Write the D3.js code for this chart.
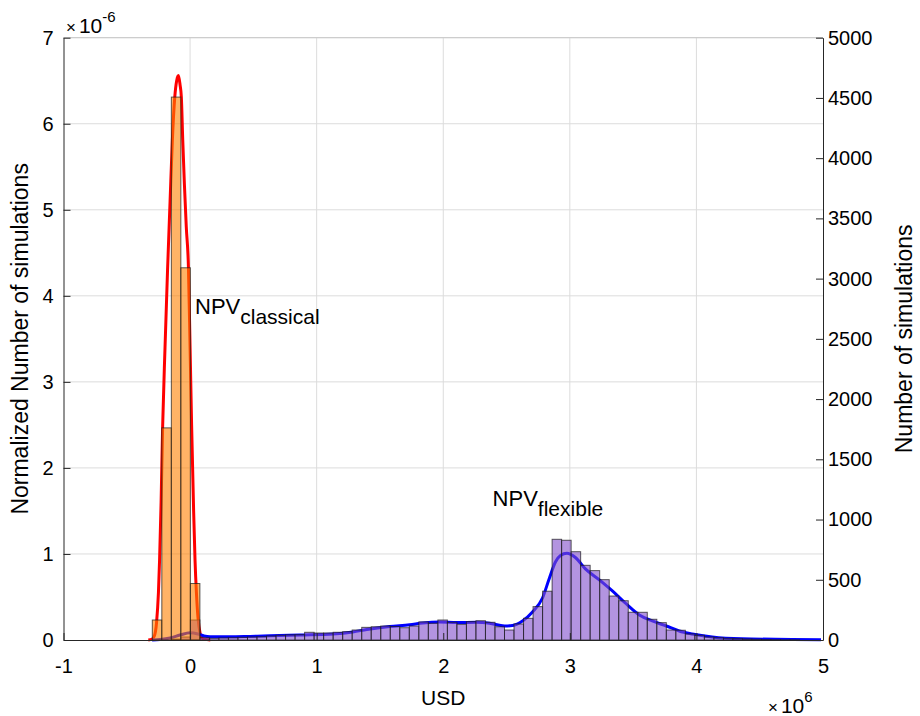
<!DOCTYPE html>
<html>
<head>
<meta charset="utf-8">
<title>NPV histogram</title>
<script src="https://d3js.org/d3.v7.min.js"></script>
<style>
  body { margin: 0; background: #fff; }
  svg { font-family: "Liberation Sans", Arial, sans-serif; }
  .tick text { font-size: 20px; fill: #000; }
  .axis path, .axis line { stroke: #262626; }
</style>
</head>
<body>
<div id="chart"></div>
<script>

// histogram bins, in millions of USD
var binStart = -0.2985
var binWidth = 0.0752

// counts per bin (right axis), classical starts at bin 0
var classicalCounts = [166, 1761, 4507, 3090, 469]
var flexibleCounts = [0, 0, 8, 25, 166, 19, 14, 17, 19, 22, 25, 27, 33, 39, 42, 44,
  64, 58, 58, 64, 69, 83, 105, 110, 116, 112, 102, 116,
  150, 139, 166, 147, 130, 152, 160, 147, 110, 83, 133, 180, 277, 405,
  836, 828, 733, 620, 576, 501, 365, 326, 230, 230, 172, 144,
  83, 81, 50, 39, 25, 19, 14, 11, 8, 6, 4, 3, 2, 2]

// fitted densities (left axis, x in 1e6 USD, y in 1e-6)
var classicalPdf = [[-0.33, 0], [-0.300, 0.01], [-0.284, 0.04], [-0.265, 0.2], [-0.250, 0.55],
  [-0.241, 0.93], [-0.229, 1.6], [-0.217, 2.47], [-0.198, 3.4], [-0.178, 4.3], [-0.158, 5.1],
  [-0.140, 5.81], [-0.121, 6.31], [-0.106, 6.5], [-0.092, 6.56], [-0.079, 6.45], [-0.069, 6.31],
  [-0.058, 5.81], [-0.045, 5.3], [-0.030, 4.8], [-0.013, 4.33], [0.000, 3.4], [0.012, 2.5],
  [0.028, 1.5], [0.039, 0.93], [0.050, 0.55], [0.063, 0.25], [0.079, 0.08], [0.095, 0.02], [0.16, 0]]

var flexiblePdf = [[-0.30, 0], [-0.237, 0.006], [-0.158, 0.023], [-0.079, 0.058], [0.000, 0.085],
  [0.063, 0.070], [0.110, 0.047], [0.158, 0.038], [0.315, 0.037], [0.473, 0.042], [0.631, 0.048],
  [0.868, 0.058], [1.128, 0.070], [1.285, 0.093], [1.396, 0.122], [1.577, 0.157], [1.735, 0.178],
  [1.838, 0.198], [1.972, 0.209], [2.106, 0.203], [2.263, 0.206], [2.366, 0.194], [2.484, 0.163],
  [2.547, 0.169], [2.626, 0.221], [2.705, 0.326], [2.784, 0.488], [2.839, 0.721], [2.886, 0.907],
  [2.926, 0.983], [2.977, 1.008], [3.044, 0.959], [3.123, 0.826], [3.233, 0.698], [3.336, 0.570],
  [3.438, 0.430], [3.549, 0.291], [3.651, 0.221], [3.762, 0.163], [3.864, 0.105], [3.967, 0.070],
  [4.125, 0.035], [4.361, 0.014], [4.756, 0.007], [4.984, 0.003]]

var xTicks = [-1, 0, 1, 2, 3, 4, 5]
var leftTicks = [0, 1, 2, 3, 4, 5, 6, 7]
var rightTicks = [0, 500, 1000, 1500, 2000, 2500, 3000, 3500, 4000, 4500, 5000]


const width = 920
const height = 716
const plot = {left: 63.5, right: 823, top: 37.7, bottom: 640}

var svg = d3.select('#chart')
  .append('svg')
  .attr('width', width)
  .attr('height', height)

var x = d3.scaleLinear().domain([-1, 5]).range([plot.left, plot.right])
var yLeft = d3.scaleLinear().domain([0, 7]).range([plot.bottom, plot.top])
var yRight = d3.scaleLinear().domain([0, 5000]).range([plot.bottom, plot.top])

// grid
var grid = svg.append('g')
grid.selectAll('.vg')
  .data(xTicks.slice(1, -1))
  .enter().append('line')
  .attr('x1', d => x(d)).attr('x2', d => x(d))
  .attr('y1', plot.top).attr('y2', plot.bottom)
  .style('stroke', '#dcdcdc')
grid.selectAll('.hg')
  .data(leftTicks.slice(1))
  .enter().append('line')
  .attr('x1', plot.left).attr('x2', plot.right)
  .attr('y1', d => yLeft(d)).attr('y2', d => yLeft(d))
  .style('stroke', '#dcdcdc')

// density curves (under the bars)
var pdfLine = d3.line()
  .x(d => x(d[0]))
  .y(d => yLeft(d[1]))
  .curve(d3.curveMonotoneX)

svg.append('path')
  .datum(classicalPdf)
  .attr('d', pdfLine)
  .style('fill', 'none')
  .style('stroke', '#ff0000')
  .style('stroke-width', 3)
  .style('stroke-linejoin', 'round')

svg.append('path')
  .datum(flexiblePdf)
  .attr('d', pdfLine)
  .style('fill', 'none')
  .style('stroke', '#0000ff')
  .style('stroke-width', 3)
  .style('stroke-linejoin', 'round')

function drawBars(counts, fill, cls){
  svg.selectAll('.' + cls)
    .data(counts.map((c, i) => ({i: i, c: c})).filter(d => d.c > 0))
    .enter().append('rect')
    .classed(cls, true)
    .attr('x', d => x(binStart + d.i * binWidth))
    .attr('width', d => x(binStart + (d.i + 1) * binWidth) - x(binStart + d.i * binWidth))
    .attr('y', d => yRight(d.c))
    .attr('height', d => yRight(0) - yRight(d.c))
    .style('fill', fill)
    .style('fill-opacity', 0.6)
    .style('stroke', '#1a1a1a')
    .style('stroke-opacity', 0.7)
    .style('stroke-width', 1)
}

drawBars(flexibleCounts, 'rgb(128, 77, 204)', 'flexBar')
drawBars(classicalCounts, 'rgb(255, 128, 0)', 'classBar')

// top border
svg.append('line')
  .attr('x1', plot.left).attr('x2', plot.right)
  .attr('y1', plot.top).attr('y2', plot.top)
  .style('stroke', '#c8c8c8')

// axes
var plain = d3.format('d')
var xAxis = d3.axisBottom(x).tickValues(xTicks).tickFormat(plain).tickSize(-7).tickSizeOuter(0).tickPadding(19)
var leftAxis = d3.axisLeft(yLeft).tickValues(leftTicks).tickFormat(plain).tickSize(-7).tickSizeOuter(0).tickPadding(10)
var rightAxis = d3.axisRight(yRight).tickValues(rightTicks).tickFormat(plain).tickSize(-7).tickSizeOuter(0).tickPadding(5)

svg.append('g').attr('class', 'axis')
  .attr('transform', 'translate(0,' + plot.bottom + ')')
  .call(xAxis)
svg.append('g').attr('class', 'axis')
  .attr('transform', 'translate(' + plot.left + ',0)')
  .call(leftAxis)
svg.append('g').attr('class', 'axis')
  .attr('transform', 'translate(' + plot.right + ',0)')
  .call(rightAxis)

// hyphen minus like the original
svg.selectAll('.tick text').text(function(){ return this.textContent.replace('\u2212', '-') })

// axis labels
svg.append('text')
  .attr('transform', 'translate(28,' + (plot.top + plot.bottom) / 2 + ') rotate(-90)')
  .attr('text-anchor', 'middle')
  .style('font-size', '23px')
  .text('Normalized Number of simulations')

svg.append('text')
  .attr('transform', 'translate(912,' + (plot.top + plot.bottom) / 2 + ') rotate(-90)')
  .attr('text-anchor', 'middle')
  .style('font-size', '23px')
  .text('Number of simulations')

svg.append('text')
  .attr('x', (plot.left + plot.right) / 2)
  .attr('y', 705)
  .attr('text-anchor', 'middle')
  .style('font-size', '21px')
  .text('USD')

// exponent labels
function exponent(px, py, power){
  var t = svg.append('text').attr('x', px).attr('y', py).style('font-size', '21px')
  t.append('tspan').text('\u00d7').style('font-size', '17px')
  t.append('tspan').text('10').attr('dx', 3)
  t.append('tspan').text(power).attr('dy', -11).style('font-size', '15px')
}
exponent(66, 33, '-6')
exponent(768, 713, '6')

// annotations
function npvLabel(px, py, sub){
  var t = svg.append('text').attr('x', x(px)).attr('y', yLeft(py)).style('font-size', '22px')
  t.append('tspan').text('NPV')
  t.append('tspan').text(sub).attr('dy', 10).style('font-size', '21px')
}
npvLabel(0.039, 3.79, 'classical')
npvLabel(2.39, 1.56, 'flexible')

</script>
</body>
</html>
